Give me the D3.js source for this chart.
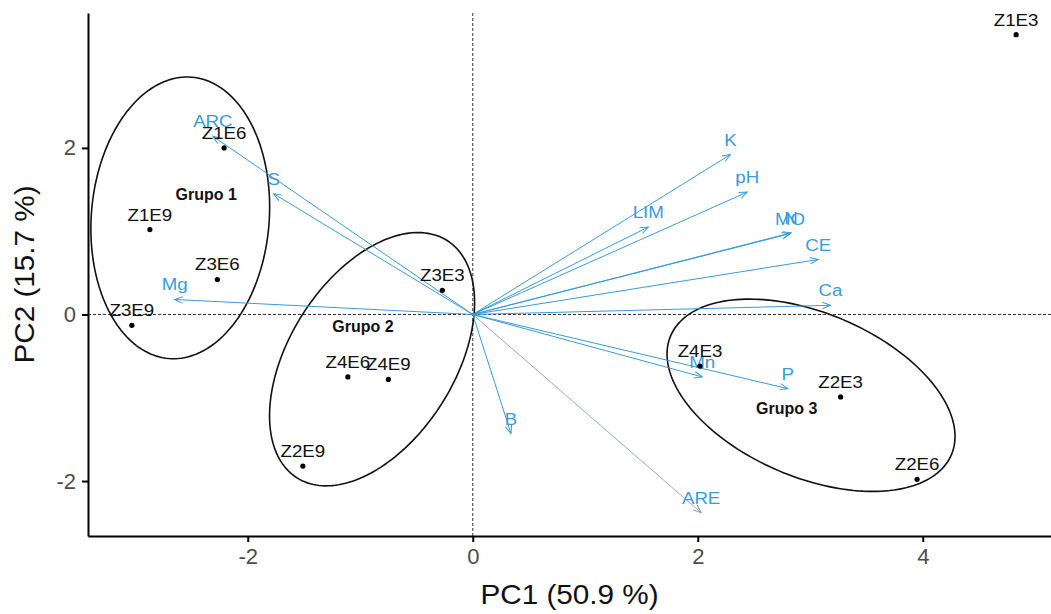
<!DOCTYPE html>
<html>
<head>
<meta charset="utf-8">
<script src="https://cdn.jsdelivr.net/npm/d3@7"></script>
<style>
  body { margin: 0; background: #fff; }
  text { font-family: "Liberation Sans", Arial, sans-serif; }
</style>
</head>
<body>
<div id="biplot"></div>
<script>
// samples (individuals)
var sampleNames = ["Z1E3", "Z1E6", "Z1E9", "Z3E6", "Z3E9", "Z3E3", "Z4E6", "Z4E9", "Z2E9", "Z4E3", "Z2E3", "Z2E6"];
var samplePC1 = [4.83, -2.21, -2.87, -2.27, -3.03, -0.27, -1.11, -0.75, -1.51, 2.02, 3.27, 3.95];
var samplePC2 = [3.36, 2.00, 1.02, 0.42, -0.13, 0.29, -0.75, -0.78, -1.82, -0.62, -0.99, -1.98];

// variables (arrows)
var varNames = ["ARC", "S", "Mg", "K", "pH", "LIM", "MO", "N", "CE", "Ca", "Mn", "P", "B", "ARE"];
var varPC1 = [-2.31, -1.77, -2.65, 2.29, 2.44, 1.56, 2.82, 2.83, 3.07, 3.18, 2.04, 2.80, 0.34, 2.03];
var varPC2 = [2.14, 1.45, 0.18, 1.92, 1.47, 1.05, 0.97, 0.98, 0.66, 0.11, -0.75, -0.89, -1.43, -2.38];

// group ellipses: centre, half major axis vector, half minor axis vector (PC units)
var groupNames = ["Grupo 1", "Grupo 2", "Grupo 3"];
var groupCx = [-2.60, -0.895, 3.007];
var groupCy = [1.16, -0.537, -0.970];
var groupMajor = [[0.102, 1.689], [0.667, 1.425], [1.248, -0.713]];
var groupMinor = [[0.788, -0.088], [-0.621, 0.531], [0.284, 0.908]];
var groupLabelX = [-2.37, -0.976, 2.79];
var groupLabelY = [1.38, -0.21, -1.198];

var xTicks = [-2, 0, 2, 4];
var yTicks = [-2, 0, 2];

var width = 1051;
var height = 614;
var margin = { top: 13, left: 88, bottom: 78, right: 0 };
var blue = "#3a9bdc";
var stretch = 1.1;

var svg = d3.select("#biplot")
    .append("svg")
    .attr("width", width)
    .attr("height", height);

var x = d3.scaleLinear()
    .domain([-3.42, 5.14])
    .range([margin.left, width - margin.right]);
var y = d3.scaleLinear()
    .domain([-2.66, 3.62])
    .range([height - margin.bottom, margin.top]);

function place(sel, px, py, sx) {
    return sel.attr("transform", "translate(" + px + "," + py + ") scale(" + (sx || stretch) + ",1)");
}

// arrowhead
svg.append("defs").selectAll("marker")
    .data(["blue", "grey"])
    .enter()
    .append("marker")
    .attr("id", function (d) { return "head-" + d; })
    .attr("viewBox", "-10 -5 12 10")
    .attr("refX", 0)
    .attr("refY", 0)
    .attr("markerWidth", 12)
    .attr("markerHeight", 10)
    .attr("markerUnits", "userSpaceOnUse")
    .attr("orient", "auto")
    .append("path")
    .attr("d", "M-8,-3.2L0,0L-8,3.2")
    .attr("fill", "none")
    .attr("stroke", function (d) { return d == "blue" ? blue : "#7f95a8"; })
    .attr("stroke-width", 1);

// reference lines at 0
svg.append("line")
    .attr("x1", x.range()[0]).attr("x2", x.range()[1])
    .attr("y1", y(0)).attr("y2", y(0))
    .attr("stroke", "#333").attr("stroke-width", 1)
    .attr("stroke-dasharray", "3,2");
svg.append("line")
    .attr("x1", x(0)).attr("x2", x(0))
    .attr("y1", y.range()[0]).attr("y2", y.range()[1])
    .attr("stroke", "#333").attr("stroke-width", 1)
    .attr("stroke-dasharray", "3,2");

// ellipses
var line = d3.line()
    .x(function (d) { return x(d[0]); })
    .y(function (d) { return y(d[1]); })
    .curve(d3.curveLinearClosed);

svg.selectAll(".ellipse")
    .data(groupNames)
    .enter()
    .append("path")
    .attr("class", "ellipse")
    .attr("fill", "none")
    .attr("stroke", "#111")
    .attr("stroke-width", 1.6)
    .attr("d", function (d, i) {
        var pts = d3.range(0, 2 * Math.PI, Math.PI / 90).map(function (t) {
            var c = Math.cos(t), s = Math.sin(t);
            return [groupCx[i] + c * groupMajor[i][0] + s * groupMinor[i][0],
                    groupCy[i] + c * groupMajor[i][1] + s * groupMinor[i][1]];
        });
        return line(pts);
    });

// variable arrows
svg.selectAll(".arrow")
    .data(varNames)
    .enter()
    .append("line")
    .attr("class", "arrow")
    .attr("x1", x(0))
    .attr("y1", y(0))
    .attr("x2", function (d, i) { return x(varPC1[i]); })
    .attr("y2", function (d, i) { return y(varPC2[i]); })
    .attr("stroke", function (d) { return d == "ARE" ? "#7f95a8" : blue; })
    .attr("stroke-width", function (d) { return d == "ARE" ? 0.8 : 1; })
    .attr("marker-end", function (d) { return d == "ARE" ? "url(#head-grey)" : "url(#head-blue)"; });

svg.selectAll(".varlabel")
    .data(varNames)
    .enter()
    .append("text")
    .attr("class", "varlabel")
    .text(function (d) { return d; })
    .each(function (d, i) { place(d3.select(this), x(varPC1[i]), y(varPC2[i]) - 9); })
    .style("text-anchor", "middle")
    .style("font-size", "17px")
    .attr("fill", blue);

// samples
svg.selectAll(".dot")
    .data(sampleNames)
    .enter()
    .append("circle")
    .attr("class", "dot")
    .attr("r", 2.6)
    .attr("cx", function (d, i) { return x(samplePC1[i]); })
    .attr("cy", function (d, i) { return y(samplePC2[i]); })
    .attr("fill", "#000");

svg.selectAll(".samplelabel")
    .data(sampleNames)
    .enter()
    .append("text")
    .attr("class", "samplelabel")
    .text(function (d) { return d; })
    .each(function (d, i) { place(d3.select(this), x(samplePC1[i]), y(samplePC2[i]) - 9); })
    .style("text-anchor", "middle")
    .style("font-size", "17px")
    .attr("fill", "#111");

svg.selectAll(".grouplabel")
    .data(groupNames)
    .enter()
    .append("text")
    .attr("class", "grouplabel")
    .text(function (d) { return d; })
    .each(function (d, i) { place(d3.select(this), x(groupLabelX[i]), y(groupLabelY[i]), 1); })
    .style("text-anchor", "middle")
    .style("font-size", "16px")
    .style("font-weight", "bold")
    .attr("fill", "#111");

// axes
var xAxis = svg.append("g")
    .attr("transform", "translate(0," + (height - margin.bottom) + ")")
    .call(d3.axisBottom(x).tickValues(xTicks).tickSize(6).tickSizeOuter(0).tickPadding(6).tickFormat(d3.format("d")));
var yAxis = svg.append("g")
    .attr("transform", "translate(" + margin.left + ",0)")
    .call(d3.axisLeft(y).tickValues(yTicks).tickSize(6).tickSizeOuter(0).tickPadding(6).tickFormat(d3.format("d")));

[xAxis, yAxis].forEach(function (g) {
    g.select(".domain").attr("stroke", "#000").attr("stroke-width", 2);
    g.selectAll(".tick line").attr("stroke", "#000").attr("stroke-width", 2);
    g.selectAll(".tick text")
        .attr("fill", "#4d4d4d")
        .style("font-size", "22px")
        .style("font-family", "'Liberation Sans', Arial, sans-serif")
        .text(function (d) { return d; });
});

// axis titles
place(svg.append("text"), (margin.left + width - margin.right) / 2, 604)
    .style("text-anchor", "middle")
    .style("font-size", "27px")
    .attr("fill", "#111")
    .text("PC1 (50.9 %)");

svg.append("text")
    .attr("transform", "translate(34," + ((margin.top + height - margin.bottom) / 2) + ") rotate(-90) scale(1.1,1)")
    .style("text-anchor", "middle")
    .style("font-size", "27px")
    .attr("fill", "#111")
    .text("PC2 (15.7 %)");
</script>
</body>
</html>
